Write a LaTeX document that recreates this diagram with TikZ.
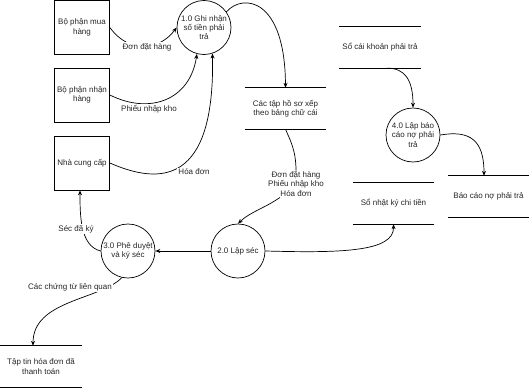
\documentclass[tikz,border=0pt]{standalone}
\usepackage{fontspec}
\setmainfont{Liberation Sans}
\usetikzlibrary{arrows.meta,calc}
\begin{document}
\begin{tikzpicture}[x=1pt,y=-1pt,
  every node/.style={font=\fontsize{8}{9.2}\selectfont, text=black!85, align=center, inner sep=1pt},
  ent/.style={draw, line width=0.7pt, minimum width=55pt, minimum height=54pt},
  proc/.style={draw, line width=0.7pt, circle, minimum size=54pt, inner sep=0pt},
  store/.style={minimum width=81pt, minimum height=41pt},
  lbl/.style={fill=white, inner sep=1pt},
  flow/.style={draw, line width=0.7pt, -{Stealth[length=5pt,width=4pt]}},
  ln/.style={line width=0.7pt}
]
\useasboundingbox (0,0) rectangle (530,388);

% external entities
\node[ent] (b1) at (82,27.5) {Bộ phận mua\\hàng};
\node[ent] (b2) at (82,95) {Bộ phận nhận\\hàng};
\node[ent] (b3) at (82,163) {Nhà cung cấp};

% processes
\node[proc] (p1) at (204,27.5) {1.0 Ghi nhận\\số tiền phải\\trả};
\node[proc] (p2) at (238,251) {2.0 Lập séc};
\node[proc] (p3) at (128,251) {3.0 Phê duyệt\\và ký séc};
\node[proc] (p4) at (413,135) {4.0 Lập báo\\cáo nợ phải\\trả};

% data stores
\node[store] (s1) at (285.5,108.5) {Các tập hồ sơ xếp\\theo bảng chữ cái};
\node[store] (s2) at (380,47.5) {Sổ cái khoản phải trả};
\node[store] (s3) at (488.5,196.5) {Báo cáo nợ phải trả};
\node[store] (s4) at (393.5,203.5) {Sổ nhật ký chi tiền};
\node[store] (s5) at (41,366.5) {Tập tin hóa đơn đã\\thanh toán};
\foreach \s in {s1,s2,s3,s4,s5}{
  \draw[ln] (\s.north west) -- (\s.north east) (\s.south west) -- (\s.south east);
}

% label that splits a flow
\node[lbl] (l6) at (296,184) {Đơn đặt hàng\\Phiếu nhập kho\\Hóa đơn};

% flows
\draw[flow] (b1.east) .. controls (130,55) and (160,50) .. (p1.west);
\draw[flow] (b2.east) .. controls (150,115) and (190,100) .. (p1.-105);
\draw[flow] (b3.east) .. controls (160,185) and (215,185) .. (p1.-72);
\draw[flow] (p1.35) .. controls (243,-7) and (285,-2) .. (s1.north);
\draw[flow] ([xshift=7pt]s2.south) .. controls (405,68) and (413,80) .. (p4.north);
\draw[flow] (p4.east) .. controls (470,130) and (484,140) .. ([xshift=-4.5pt]s3.north);
\draw[ln] (s1.south) .. controls (290,140) and (296,150) .. (l6.north);
\draw[flow] (l6.220) .. controls (265,208) and (250,212) .. (p2.north);
\draw[flow] (p2.west) -- (p3.east);
\draw[flow] (p2.east) .. controls (340,253) and (394,252) .. (s4.south);
\draw[flow] (p3.west) .. controls (80,246) and (80,215) .. ([xshift=-2pt]b3.south);
\draw[flow] (p3.-103) .. controls (100,300) and (33,300) .. ([xshift=-8pt]s5.north);

% labels
\node[lbl] (l1) at (147,47) {Đơn đặt hàng};
\node[lbl] (l2) at (149,109) {Phiếu nhập kho};
\node[lbl] (l3) at (194,172) {Hóa đơn};
\node[lbl] (l4) at (76,229) {Séc đã ký};
\node[lbl] (l5) at (70,287) {Các chứng từ liên quan};
\end{tikzpicture}
\end{document}
